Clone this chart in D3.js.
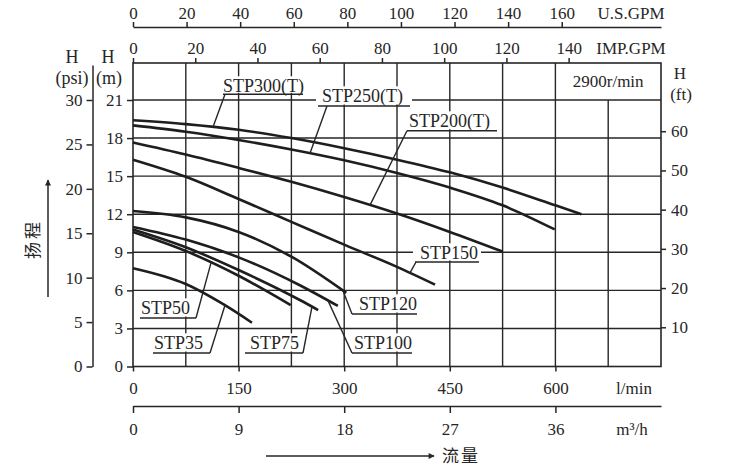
<!DOCTYPE html>
<html><head><meta charset="utf-8">
<script src="https://cdn.jsdelivr.net/npm/d3@7"></script>
<style>
html,body{margin:0;padding:0;background:#fff;}
svg{display:block;font-family:"Liberation Serif","Times New Roman",serif;}
</style></head><body>
<svg id="chart" width="735" height="466"></svg>
<script>
// ---------------- data ----------------
const flowTicksLmin = [0, 150, 300, 450, 600];
const flowTicksM3h = [0, 9, 18, 27, 36];
const flowTicksImp = [0, 20, 40, 60, 80, 100, 120, 140];
const flowTicksUs = [0, 20, 40, 60, 80, 100, 120, 140, 160];
const headTicksM = [0, 3, 6, 9, 12, 15, 18, 21];
const headTicksPsi = [0, 5, 10, 15, 20, 25, 30];
const headTicksFt = [10, 20, 30, 40, 50, 60];
const gridFlowLmin = [75, 150, 225, 300, 375, 450, 525, 600, 675];
const gridHeadM = [3, 6, 9, 12, 15, 18, 21];
const speedLabel = "2900r/min";

// pump curves: [flow l/min, head m]
const stp300T = [[0,19.4],[75,19.1],[150,18.65],[225,18.0],[300,17.2],[375,16.3],[450,15.3],[525,14.1],[600,12.7],[637,12.0]];
const stp250T = [[0,19.0],[75,18.5],[150,17.85],[225,17.1],[300,16.25],[375,15.25],[450,14.1],[525,12.7],[599,10.8]];
const stp200T = [[0,17.65],[75,16.7],[150,15.65],[225,14.55],[300,13.35],[375,12.05],[450,10.6],[525,9.05]];
const stp150 = [[0,16.3],[75,14.95],[150,13.2],[225,11.4],[300,9.6],[375,7.85],[429,6.45]];
const stp120 = [[0,12.25],[75,11.75],[150,10.6],[225,8.65],[303,5.8]];
const stp100 = [[0,11.0],[75,10.0],[150,8.6],[237,6.4],[291,4.77]];
const stp75 = [[0,10.8],[75,9.4],[150,7.6],[237,5.24],[263,4.45]];
const stp50 = [[0,10.6],[75,9.1],[150,7.15],[224,4.84]];
const stp35 = [[0,7.75],[75,6.5],[130,4.85],[169,3.45]];
const seriesNames = ["STP300(T)","STP250(T)","STP200(T)","STP150","STP120","STP100","STP75","STP50","STP35"];
const seriesData = [stp300T, stp250T, stp200T, stp150, stp120, stp100, stp75, stp50, stp35];

// unit conversions as drawn on the chart
const lPerImpGpm = 4.42, lPerUsGpm = 3.806, lPerM3h = 1000/60;
const mPerPsi = 0.7, mPerFt = 0.309;

// ---------------- layout ----------------
const svg = d3.select("#chart");
const ink = "#262626";
const L = 133, R = 661, T = 63, B = 366.5;
const x = d3.scaleLinear().domain([0, 750]).range([L, R]);
const yM = d3.scaleLinear().domain([0, 21]).range([B, 100]);
const xImp = d3.scaleLinear().domain([0, 750/lPerImpGpm]).range([L, R]);
const xUs = d3.scaleLinear().domain([0, 750/lPerUsGpm]).range([L, R]);
const xM3h = d3.scaleLinear().domain([0, 750/lPerM3h]).range([L, R]);
const topM = yM.invert(T + 2);
const yPsi = d3.scaleLinear().domain([0, topM/mPerPsi]).range([B, T + 2]);
const yFt = d3.scaleLinear().domain([0, 21/mPerFt]).range([B, 100]);

// grid
const grid = svg.append("g").attr("stroke", ink).attr("stroke-width", 1.4);
gridHeadM.forEach(h => grid.append("line").attr("x1", L).attr("x2", R).attr("y1", yM(h)).attr("y2", yM(h)));
gridFlowLmin.forEach((q, i) => grid.append("line").attr("x1", x(q)).attr("x2", x(q))
  .attr("y1", i === gridFlowLmin.length - 1 ? yM(21) : T).attr("y2", B));
svg.append("rect").attr("x", L).attr("y", T).attr("width", R - L).attr("height", B - T)
  .attr("fill", "none").attr("stroke", ink).attr("stroke-width", 1.6);

// speed label in the box
svg.append("text").attr("x", (x(600) + R) / 2).attr("y", (T + yM(21)) / 2).attr("dy", "0.35em")
  .attr("text-anchor", "middle").attr("font-size", 17).attr("fill", ink).text(speedLabel);

// label layout (pixel layout for the callouts)
const labelLayout = [
  {tx:223, ty:86,  ux1:223, ux2:303, uy:94.3, lx:225, hitX:213},
  {tx:322, ty:96,  ux1:318, ux2:410, uy:106,  lx:327, hitX:310},
  {tx:409, ty:121, ux1:407, ux2:497, uy:130.7,lx:407, hitX:370},
  {tx:420, ty:253, ux1:415, ux2:479, uy:262,  lx:416, hitX:410},
  {tx:359, ty:304, ux1:352, ux2:417, uy:314,  lx:352, hitX:343},
  {tx:354, ty:343, ux1:352, ux2:412, uy:353,  lx:352, hitX:328},
  {tx:250, ty:343, ux1:245, ux2:303, uy:353,  lx:303, hitX:312},
  {tx:141, ty:308, ux1:140, ux2:196, uy:318,  lx:196, hitX:211},
  {tx:154, ty:343, ux1:153, ux2:210, uy:353,  lx:210, hitX:225}
];
function hAt(series, q) {
  for (let i = 1; i < series.length; i++) {
    if (q <= series[i][0]) {
      const [q0, h0] = series[i-1], [q1, h1] = series[i];
      return h0 + (h1 - h0) * (q - q0) / (q1 - q0);
    }
  }
  return series[series.length - 1][1];
}

// label white backgrounds (hide grid behind text)
const labelG = svg.append("g").attr("font-size", 18).attr("fill", ink);
const texts = labelLayout.map((lb, i) => labelG.append("text").attr("x", lb.tx).attr("y", lb.ty)
  .attr("dy", "0.35em").text(seriesNames[i]));
const bgG = svg.insert("g", "rect + text");
texts.forEach((t, i) => {
  const bb = t.node().getBBox();
  const lb = labelLayout[i];
  bgG.append("rect").attr("x", Math.min(bb.x, lb.ux1) - 2).attr("y", bb.y)
    .attr("width", Math.max(bb.x + bb.width, lb.ux2) - Math.min(bb.x, lb.ux1) + 4)
    .attr("height", lb.uy - bb.y - 1.5).attr("fill", "#fff");
});

// curves
const line = d3.line().x(d => x(d[0])).y(d => yM(d[1])).curve(d3.curveMonotoneX);
svg.append("g").selectAll("path").data(seriesData).join("path")
  .attr("d", line).attr("fill", "none").attr("stroke", "#1e1e1e").attr("stroke-width", 2.6)
  .attr("stroke-linecap", "butt");

// underlines and leaders
const lead = svg.append("g").attr("stroke", ink).attr("stroke-width", 1.4).attr("fill", "none");
labelLayout.forEach((lb, i) => {
  lead.append("line").attr("x1", lb.ux1).attr("x2", lb.ux2).attr("y1", lb.uy).attr("y2", lb.uy);
  const q = x.invert(lb.hitX);
  lead.append("line").attr("x1", lb.lx).attr("y1", lb.uy)
    .attr("x2", lb.hitX).attr("y2", yM(hAt(seriesData[i], q)));
});
labelG.raise();

// ---------------- axes ----------------
function style(g) {
  g.selectAll("path.domain").attr("stroke", ink).attr("stroke-width", 1.5);
  g.selectAll(".tick line").attr("stroke", ink).attr("stroke-width", 1.5);
  g.selectAll(".tick text").attr("fill", ink).attr("font-size", 17)
    .attr("font-family", "Liberation Serif, Times New Roman, serif");
}
// US GPM (top)
const gUs = svg.append("g").attr("transform", `translate(0,27)`)
  .call(d3.axisTop(xUs).tickValues(flowTicksUs).tickSize(5).tickSizeOuter(0).tickPadding(6));
style(gUs); gUs.selectAll(".tick text").attr("dy", "0.35em").attr("y", -14);
svg.append("text").attr("x", 631).attr("y", 13).attr("dy", "0.35em").attr("text-anchor", "middle")
  .attr("font-size", 17).attr("fill", ink).text("U.S.GPM");
// IMP GPM (frame top)
const gImp = svg.append("g").attr("transform", `translate(0,${T})`)
  .call(d3.axisTop(xImp).tickValues(flowTicksImp).tickSize(5).tickSizeOuter(0));
style(gImp); gImp.select("path.domain").remove();
gImp.selectAll(".tick text").attr("dy", "0.35em").attr("y", -15);
svg.append("text").attr("x", 631).attr("y", 48).attr("dy", "0.35em").attr("text-anchor", "middle")
  .attr("font-size", 17).attr("fill", ink).text("IMP.GPM");
// l/min (frame bottom)
const gL = svg.append("g").attr("transform", `translate(0,${B})`)
  .call(d3.axisBottom(x).tickValues(flowTicksLmin).tickSize(5).tickSizeOuter(0));
style(gL); gL.select("path.domain").remove();
gL.selectAll(".tick text").attr("dy", "0.35em").attr("y", 22);
svg.append("text").attr("x", 634).attr("y", B + 22).attr("dy", "0.35em").attr("text-anchor", "middle")
  .attr("font-size", 17).attr("fill", ink).text("l/min");
// m3/h
const gM3 = svg.append("g").attr("transform", `translate(0,406)`)
  .call(d3.axisBottom(xM3h).tickValues(flowTicksM3h).tickSize(7).tickSizeOuter(0));
style(gM3); gM3.selectAll(".tick text").attr("dy", "0.35em").attr("y", 23);
svg.append("text").attr("x", 632).attr("y", 429).attr("dy", "0.35em").attr("text-anchor", "middle")
  .attr("font-size", 17).attr("fill", ink).text("m³/h");
// m (left frame)
const gMl = svg.append("g").attr("transform", `translate(${L},0)`)
  .call(d3.axisLeft(yM).tickValues(headTicksM).tickSize(6).tickSizeOuter(0).tickPadding(4));
style(gMl); gMl.select("path.domain").remove();
// psi
const gP = svg.append("g").attr("transform", `translate(92.5,0)`)
  .call(d3.axisLeft(yPsi).tickValues(headTicksPsi).tickSize(6).tickSizeOuter(0).tickPadding(4));
style(gP);
// ft (right)
const gF = svg.append("g").attr("transform", `translate(${R},0)`)
  .call(d3.axisRight(yFt).tickValues(headTicksFt).tickSize(5).tickSizeOuter(0).tickPadding(5));
style(gF); gF.select("path.domain").remove();

// unit headers
const hdr = svg.append("g").attr("font-size", 18).attr("fill", ink).attr("text-anchor", "middle");
hdr.append("text").attr("x", 72).attr("y", 57).attr("dy", "0.35em").text("H");
hdr.append("text").attr("x", 72).attr("y", 78).attr("dy", "0.35em").text("(psi)");
hdr.append("text").attr("x", 108).attr("y", 57).attr("dy", "0.35em").text("H");
hdr.append("text").attr("x", 109).attr("y", 78).attr("dy", "0.35em").text("(m)");
hdr.append("text").attr("x", 680).attr("y", 73).attr("dy", "0.35em").attr("font-size", 17).text("H");
hdr.append("text").attr("x", 681).attr("y", 94).attr("dy", "0.35em").attr("font-size", 17).text("(ft)");

// arrows with Chinese titles
const defs = svg.append("defs");
defs.append("marker").attr("id", "arr").attr("viewBox", "0 0 10 10").attr("refX", 9).attr("refY", 5)
  .attr("markerWidth", 8).attr("markerHeight", 6).attr("markerUnits", "userSpaceOnUse").attr("orient", "auto")
  .append("path").attr("d", "M0,0 L10,5 L0,10 Z").attr("fill", ink);
svg.append("line").attr("x1", 48).attr("y1", 297).attr("x2", 48).attr("y2", 180)
  .attr("stroke", ink).attr("stroke-width", 1.5).attr("marker-end", "url(#arr)");
svg.append("line").attr("x1", 266).attr("y1", 456).attr("x2", 434).attr("y2", 456)
  .attr("stroke", ink).attr("stroke-width", 1.5).attr("marker-end", "url(#arr)");
svg.append("text").attr("transform", "translate(33,239) rotate(-90)").attr("text-anchor", "middle")
  .attr("dy", "0.35em").attr("font-size", 17).attr("fill", ink)
  .attr("font-family", "Noto Sans CJK SC, sans-serif").attr("letter-spacing", 3).text("扬程");
svg.append("text").attr("x", 461).attr("y", 456).attr("text-anchor", "middle")
  .attr("dy", "0.35em").attr("font-size", 17).attr("fill", ink)
  .attr("font-family", "Noto Sans CJK SC, sans-serif").attr("letter-spacing", 2).text("流量");
</script>
</body></html>
